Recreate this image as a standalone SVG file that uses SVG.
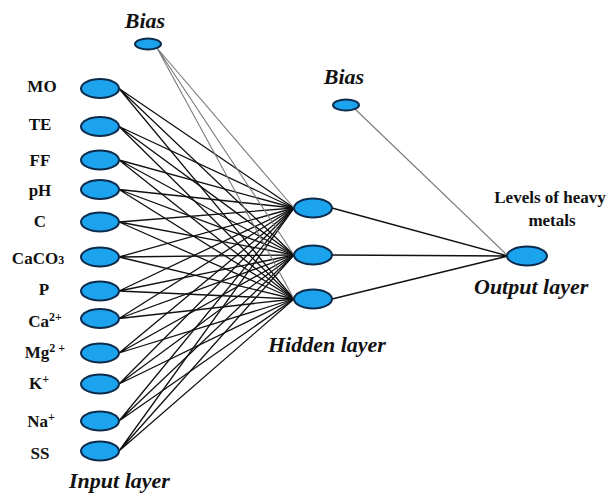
<svg xmlns="http://www.w3.org/2000/svg" width="612" height="493" viewBox="0 0 612 493">
<style>
.n{fill:#1ba3ee;stroke:#0d2c4c;stroke-width:2}
.w{stroke:#111;stroke-width:1.3;fill:none}
.b{stroke:#7a7a7a;stroke-width:1.1;fill:none}
.lb{font-family:"Liberation Serif",serif;font-weight:bold;font-size:17px;fill:#111;text-anchor:middle}
.it{font-family:"Liberation Serif",serif;font-weight:bold;font-style:italic;font-size:22px;fill:#111}
</style>
<rect width="612" height="493" fill="#fff"/>
<g id="connectors">
<g class="w">
<path d="M119 88.5L294 208M119 88.5L294 255M119 88.5L294 299"/>
<path d="M119 126.5L294 208M119 126.5L294 255M119 126.5L294 299"/>
<path d="M119 160L294 208M119 160L294 255M119 160L294 299"/>
<path d="M119 189.5L294 208M119 189.5L294 255M119 189.5L294 299"/>
<path d="M119 222L294 208M119 222L294 255M119 222L294 299"/>
<path d="M119 257L294 208M119 257L294 255M119 257L294 299"/>
<path d="M119 291L294 208M119 291L294 255M119 291L294 299"/>
<path d="M119 318.5L294 208M119 318.5L294 255M119 318.5L294 299"/>
<path d="M119 353L294 208M119 353L294 255M119 353L294 299"/>
<path d="M119 384L294 208M119 384L294 255M119 384L294 299"/>
<path d="M119 421L294 208M119 421L294 255M119 421L294 299"/>
<path d="M119 451L294 208M119 451L294 255M119 451L294 299"/>
<path d="M332 208L508 256M332 255L508 256M332 299L508 256"/>
</g>
<g class="b">
<path d="M157 48L294 208M157 48L294 255M157 48L294 299"/>
<path d="M355 109L508 256"/>
</g>
</g>
<g id="bias1"><ellipse class="n" cx="148" cy="44" rx="13" ry="5.5"/><text class="it" x="145" y="28" text-anchor="middle">Bias</text></g>
<g id="in-MO"><ellipse class="n" cx="100" cy="88.5" rx="19" ry="9.5"/><text class="lb" x="42" y="92">MO</text></g>
<g id="in-TE"><ellipse class="n" cx="100" cy="126.5" rx="19" ry="9.5"/><text class="lb" x="40" y="130">TE</text></g>
<g id="in-FF"><ellipse class="n" cx="100" cy="160" rx="19" ry="9.5"/><text class="lb" x="40" y="166">FF</text></g>
<g id="in-pH"><ellipse class="n" cx="100" cy="189.5" rx="19" ry="9.5"/><text class="lb" x="40" y="196">pH</text></g>
<g id="in-C"><ellipse class="n" cx="100" cy="222" rx="19" ry="9.5"/><text class="lb" x="40" y="227">C</text></g>
<g id="in-CaCO3"><ellipse class="n" cx="100" cy="257" rx="19" ry="9.5"/><text class="lb" x="38" y="264">CaCO<tspan font-size="12">3</tspan></text></g>
<g id="in-P"><ellipse class="n" cx="100" cy="291" rx="19" ry="9.5"/><text class="lb" x="44" y="295">P</text></g>
<g id="in-Ca"><ellipse class="n" cx="100" cy="318.5" rx="19" ry="9.5"/><text class="lb" x="45" y="327">Ca<tspan font-size="12" dy="-6">2+</tspan></text></g>
<g id="in-Mg"><ellipse class="n" cx="100" cy="353" rx="19" ry="9.5"/><text class="lb" x="45" y="358">Mg<tspan font-size="12" dy="-6">2 +</tspan></text></g>
<g id="in-K"><ellipse class="n" cx="100" cy="384" rx="19" ry="9.5"/><text class="lb" x="39" y="389">K<tspan font-size="12" dy="-6">+</tspan></text></g>
<g id="in-Na"><ellipse class="n" cx="100" cy="421" rx="19" ry="9.5"/><text class="lb" x="41" y="427">Na<tspan font-size="12" dy="-6">+</tspan></text></g>
<g id="in-SS"><ellipse class="n" cx="100" cy="451" rx="19" ry="9.5"/><text class="lb" x="40" y="459">SS</text></g>
<text class="it" x="69" y="488">Input layer</text>
<g id="bias2"><ellipse class="n" cx="346" cy="105" rx="13" ry="5.5"/><text class="it" x="344" y="84" text-anchor="middle">Bias</text></g>
<g id="h1"><ellipse class="n" cx="313" cy="208" rx="19" ry="9.5"/></g>
<g id="h2"><ellipse class="n" cx="313" cy="255" rx="19" ry="9.5"/></g>
<g id="h3"><ellipse class="n" cx="313" cy="299" rx="19" ry="9.5"/></g>
<text class="it" x="268" y="352">Hidden layer</text>
<g id="out"><ellipse class="n" cx="527" cy="256" rx="20" ry="9.5"/>
<text class="lb" x="550" y="203">Levels of heavy</text><text class="lb" x="552" y="226">metals</text></g>
<text class="it" x="474" y="294">Output layer</text>
</svg>
